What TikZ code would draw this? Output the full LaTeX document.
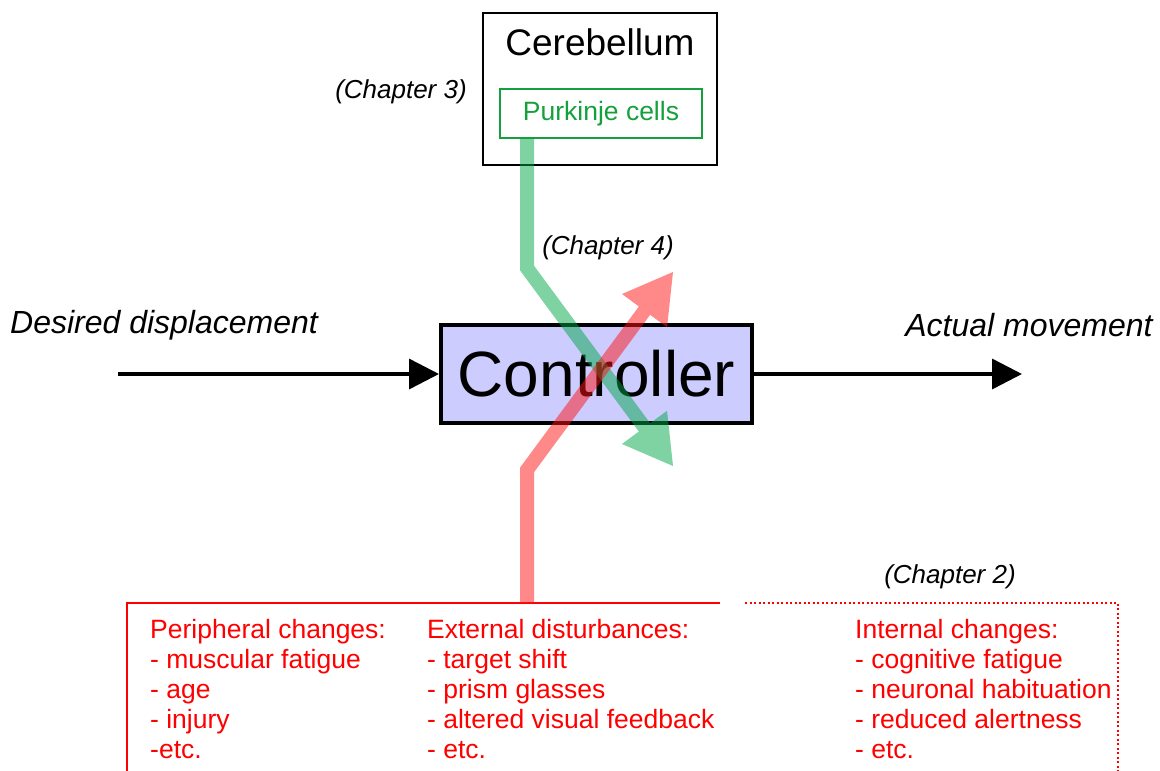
\documentclass[tikz,border=0pt]{standalone}
\usepackage{fontspec}
\setmainfont{Liberation Sans}
\usetikzlibrary{arrows.meta,positioning}
\definecolor{ctrlfill}{RGB}{204,204,255}
\definecolor{purkgreen}{RGB}{20,160,60}
\definecolor{pathgreen}{RGB}{0,165,70}
\definecolor{pathred}{RGB}{255,20,20}

\begin{document}
\begin{tikzpicture}[x=1pt,y=-1pt,
every node/.style={inner sep=0pt},
chap/.style={font=\fontsize{26}{30}\selectfont\itshape},
sig/.style={font=\fontsize{32}{36}\selectfont\itshape},
sigarrow/.style={line width=3.5pt,-{Triangle[length=30pt,width=30pt]}},
listtxt/.style={red,align=left,anchor=north west,font=\fontsize{26.5}{30}\selectfont},
fatpath/.style={line width=14pt,opacity=0.5,-{Triangle[length=48pt,width=56pt,line width=0pt]}}]
\useasboundingbox (0,0) rectangle (1160,771);

% boxes
\node[draw,line width=2pt,minimum width=234pt,minimum height=152pt] (cereb) at (600,89) {};
\node[font=\fontsize{37}{40}\selectfont] (cerebtxt) at (600,42) {Cerebellum};
\node[draw=purkgreen,line width=1.5pt,text=purkgreen,minimum width=202pt,minimum height=49pt,
      font=\fontsize{26.5}{30}\selectfont] (purk) at (601,113.5) {Purkinje cells};
\node[draw,fill=ctrlfill,line width=4pt,minimum width=311pt,minimum height=98pt,
      font=\fontsize{64}{70}\selectfont] (ctrl) at (596.5,374) {Controller};

% labels
\node[chap] (ch3) at (401,92) {(Chapter 3)};
\node[chap] (ch4) at (608,248) {(Chapter 4)};
\node[chap] (ch2) at (950,577) {(Chapter 2)};
\node[sig] (desired) at (164,325) {Desired displacement};
\node[sig] (actual) at (1029,325) {Actual movement};

% signal arrows
\coordinate (in) at (118,374);
\coordinate (out) at (1022,374);
\draw[sigarrow] (in) -- (ctrl.west);
\draw[sigarrow] (ctrl.east) -- (out);

% disturbance boxes
\coordinate (bl) at (127,771);
\coordinate (tl) at (127,603);
\coordinate (tm) at (720,603);
\coordinate (dm) at (745,603);
\coordinate (tr) at (1118,603);
\coordinate (br) at (1118,771);
\draw[red,line width=2pt] (bl) -- (tl) -- (tm);
\draw[red,line width=2pt,dash pattern=on 2pt off 2.5pt] (dm) -- (tr) -- (br);

\node[listtxt] (periph) at (150,619) {Peripheral changes:\\- muscular fatigue\\- age\\- injury\\-etc.};
\node[listtxt] (extern) at (427,619) {External disturbances:\\- target shift\\- prism glasses\\- altered visual feedback\\- etc.};
\node[listtxt] (intern) at (855,619) {Internal changes:\\- cognitive fatigue\\- neuronal habituation\\- reduced alertness\\- etc.};

% learning paths
\coordinate (gbend) at (527,268);
\coordinate (gtip) at (673,466);
\coordinate (rstart) at (527,603);
\coordinate (rbend) at (527,470);
\coordinate (rtip) at (673,272);
\draw[fatpath,pathgreen] (purk.south -| gbend) -- (gbend) -- (gtip);
\draw[fatpath,pathred] (rstart) -- (rbend) -- (rtip);
\end{tikzpicture}
\end{document}
